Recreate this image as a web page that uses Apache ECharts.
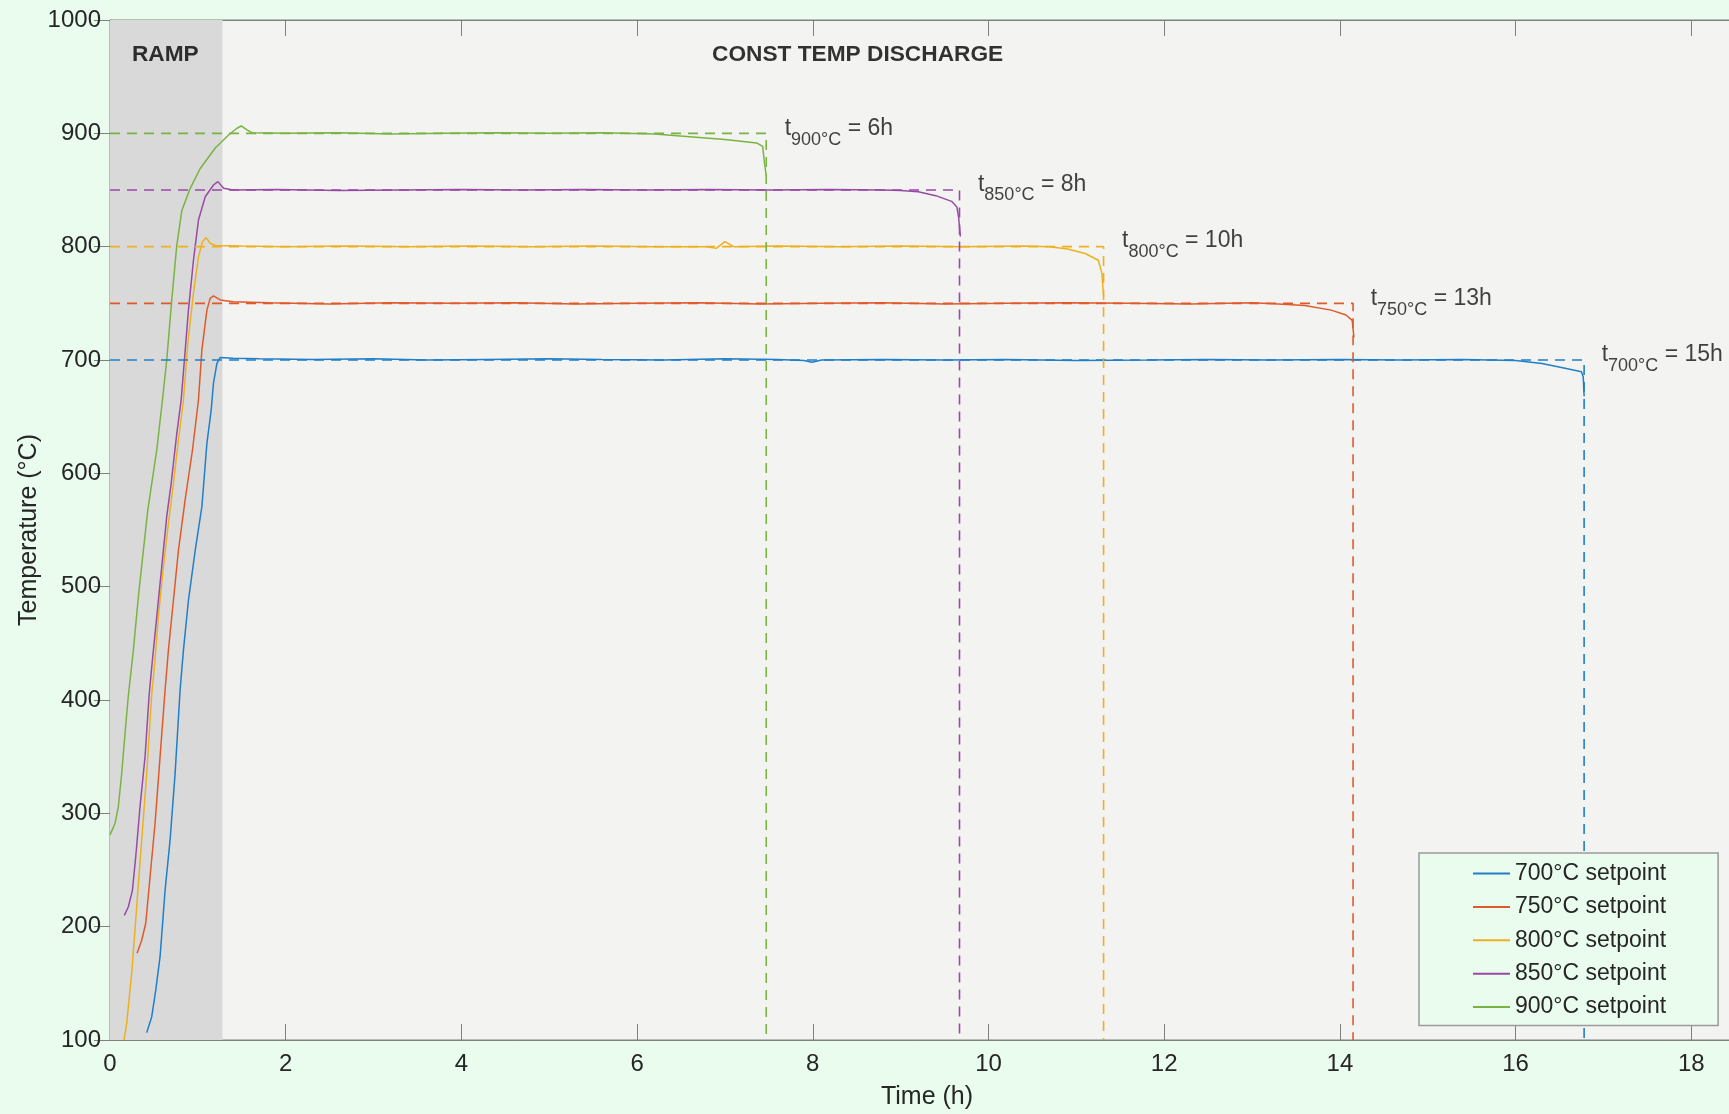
<!DOCTYPE html>
<html>
<head>
<meta charset="utf-8">
<script src="https://cdn.jsdelivr.net/npm/echarts@6/dist/echarts.min.js"></script>
<style>
  html, body { margin: 0; padding: 0; background: #EAFCEE; }
  #chart { width: 1729px; height: 1114px; }
</style>
</head>
<body>
<div id="chart"></div>
<script>
// ---------- DATA ----------
const seriesNames = ['700°C setpoint', '750°C setpoint', '800°C setpoint', '850°C setpoint', '900°C setpoint'];
const seriesColors = ['#1F7FC9', '#E05A29', '#EDB120', '#984AA5', '#79B443'];

const t700 = [0.418, 0.475, 0.521, 0.57, 0.627, 0.684, 0.741, 0.798, 0.836, 0.893, 0.97, 1.046, 1.103, 1.152, 1.178, 1.217, 1.255, 1.4, 1.7, 2.3, 3.0, 3.6, 4.3, 5.0, 5.6, 6.3, 7.0, 7.6, 7.9, 7.99, 8.1, 8.8, 9.5, 10.2, 11.0, 11.8, 12.5, 13.2, 14.0, 14.7, 15.4, 16.0, 16.3, 16.55, 16.75, 16.77, 16.78];
const T700 = [106.5, 120.6, 144, 173.5, 232, 276.5, 335, 408.8, 444, 488, 532, 570.6, 626.5, 656, 679.5, 697, 702.3, 701.5, 701, 700.5, 701, 700, 700.5, 701, 700.5, 700, 701, 700.5, 699.5, 698, 700, 700.5, 700, 700.5, 699.5, 700, 700.5, 700, 700.5, 700, 700.5, 699.5, 697, 693, 689.7, 685, 668];

const t750 = [0.308, 0.361, 0.407, 0.456, 0.513, 0.57, 0.627, 0.665, 0.722, 0.779, 0.855, 0.939, 1.007, 1.046, 1.103, 1.14, 1.178, 1.255, 1.4, 1.8, 2.5, 3.2, 3.9, 4.6, 5.3, 6.0, 6.7, 7.4, 8.1, 8.8, 9.5, 10.2, 10.9, 11.6, 12.3, 13.0, 13.3, 13.6, 13.9, 14.07, 14.14, 14.16];
const T750 = [176.5, 188, 203, 244, 291, 350, 408.8, 444, 488, 532, 576.5, 620.6, 664.7, 709, 744, 754.4, 756.5, 753, 751.5, 750.5, 749.5, 750.5, 750, 750.5, 749.5, 750, 750.5, 749.5, 750, 750.5, 749.5, 750, 750.5, 750, 749.5, 750.5, 749.5, 748, 744, 739.7, 735, 720];

const t800 = [0.16, 0.19, 0.247, 0.304, 0.361, 0.418, 0.475, 0.505, 0.551, 0.608, 0.665, 0.722, 0.779, 0.836, 0.886, 0.95, 1.007, 1.053, 1.095, 1.14, 1.198, 1.5, 2.0, 2.7, 3.4, 4.1, 4.8, 5.5, 6.2, 6.8, 6.9, 7.0, 7.1, 7.6, 8.3, 9.0, 9.7, 10.4, 10.7, 10.9, 11.1, 11.25, 11.29, 11.31];
const T800 = [100, 114.7, 159, 217.6, 276.5, 335, 405, 429, 473.5, 517.6, 556, 591, 629.4, 664.7, 715, 759, 791, 804.4, 808, 803, 801, 800.5, 800, 800.5, 800, 800.5, 800, 800.5, 800, 800, 798.5, 804.4, 800, 800.5, 800, 800.5, 800, 800.5, 800, 798, 794, 788, 777, 756];

const t850 = [0.163, 0.209, 0.255, 0.293, 0.342, 0.399, 0.445, 0.475, 0.532, 0.589, 0.646, 0.696, 0.76, 0.81, 0.893, 0.95, 1.007, 1.084, 1.178, 1.228, 1.293, 1.4, 1.9, 2.6, 3.3, 4.0, 4.7, 5.4, 6.1, 6.8, 7.5, 8.2, 8.8, 9.0, 9.2, 9.4, 9.58, 9.64, 9.66, 9.68];
const T850 = [210, 217.6, 232, 261.7, 306, 350, 404, 429, 473.5, 517.6, 562, 591, 635, 664.7, 744, 788, 823.5, 844, 854.4, 857.4, 851.5, 850, 850.5, 849.5, 850, 850.5, 850, 850.5, 850, 850.5, 850, 850.5, 850, 849.5, 848.5, 845, 840, 835, 826, 809];

const t900 = [0, 0.057, 0.095, 0.133, 0.171, 0.209, 0.266, 0.323, 0.38, 0.43, 0.475, 0.532, 0.597, 0.646, 0.703, 0.76, 0.818, 0.913, 1.027, 1.198, 1.35, 1.445, 1.494, 1.559, 1.616, 2.0, 2.6, 3.2, 3.8, 4.4, 5.0, 5.6, 6.2, 6.6, 7.0, 7.36, 7.43, 7.45, 7.47];
const T900 = [281, 291, 306, 335, 370.6, 404, 444, 491, 532, 567.6, 591, 620.6, 664.7, 700, 753, 801, 832, 851.5, 869, 887, 898.5, 904.5, 906.5, 903, 900.6, 900, 900.5, 899.5, 900, 900.5, 900, 900.5, 899.5, 897, 894.5, 891.5, 888.5, 873.6, 863];

const setpoints = [700, 750, 800, 850, 900];
const endTimes = [16.78, 14.15, 11.31, 9.67, 7.47];

const labelTimes = [16.98, 14.35, 11.52, 9.88, 7.68];
const labelTemps = [704.5, 754, 805, 855, 904];
const labelSubs = ['700°C', '750°C', '800°C', '850°C', '900°C'];
const labelHours = ['15h', '13h', '10h', '8h', '6h'];

const rampRange = [0, 1.28];
const phaseLabels = ['RAMP', 'CONST TEMP DISCHARGE'];
const phaseLabelTimes = [0.63, 8.51];
const phaseLabelTemps = [969, 969];

const xTicks = { min: 0, max: 18.6, interval: 2 };
const yTicks = { min: 100, max: 1000, interval: 100 };

// ---------- BUILD ----------
const FONT = 'Liberation Sans, Arial, Helvetica, sans-serif';
const times = [t700, t750, t800, t850, t900];
const temps = [T700, T750, T800, T850, T900];
const axisGray = '#808080';
const textCol = '#262626';

const series = [];

series.push({
  name: 'rampShade', type: 'line', data: [[rampRange[0], yTicks.min]],
  symbol: 'none', lineStyle: { width: 0 }, silent: true, z: 1,
  markArea: {
    silent: true,
    itemStyle: { color: '#D9D9D9' },
    data: [[{ xAxis: rampRange[0] }, { xAxis: rampRange[1] }]]
  }
});

for (let i = 0; i < 5; i++) {
  series.push({
    name: seriesNames[i], type: 'line',
    data: times[i].map((t, k) => [t, temps[i][k]]),
    symbol: 'none', smooth: false,
    lineStyle: { color: seriesColors[i], width: 1.5 },
    itemStyle: { color: seriesColors[i] },
    z: 3
  });
}
for (let i = 0; i < 5; i++) {
  series.push({
    name: 'dash' + i, type: 'line',
    data: [[0, setpoints[i]], [endTimes[i], setpoints[i]], [endTimes[i], yTicks.min]],
    symbol: 'none',
    lineStyle: { color: seriesColors[i], width: 1.6, type: [10, 7] },
    z: 3
  });
}

series.push({
  name: 'timeLabels', type: 'scatter',
  data: labelTimes.map((t, i) => ({ value: [t, labelTemps[i]], sub: labelSubs[i], hrs: labelHours[i] })),
  symbolSize: 0, silent: true, z: 6,
  label: {
    show: true, position: 'right', distance: 0,
    formatter: p => '{t|t}{s|' + p.data.sub + '}{e| = ' + p.data.hrs + '}',
    rich: {
      t: { fontSize: 23, fontFamily: FONT, color: '#111' },
      s: { fontSize: 18, fontFamily: FONT, color: '#111', padding: [22, 0, 0, 0] },
      e: { fontSize: 23, fontFamily: FONT, color: '#111' }
    }
  }
});

series.push({
  name: 'phaseLabels', type: 'scatter',
  data: phaseLabelTimes.map((t, i) => ({ value: [t, phaseLabelTemps[i]], txt: phaseLabels[i] })),
  symbolSize: 0, silent: true, z: 6,
  label: {
    show: true, position: 'inside',
    formatter: p => p.data.txt,
    fontSize: 22.7, fontWeight: 'bold', fontFamily: FONT, color: '#000'
  }
});

const tickStyle = { show: true, inside: true, length: 16, lineStyle: { color: axisGray, width: 1 } };

const option = {
  backgroundColor: '#EAFCEE',
  animation: false,
  textStyle: { fontFamily: FONT },
  grid: {
    left: 110, top: 20, right: -15, bottom: 74,
    outerBoundsMode: 'none', containLabel: false,
    show: true, backgroundColor: '#F3F3F1', borderColor: axisGray, borderWidth: 1
  },
  legend: {
    data: seriesNames,
    orient: 'vertical',
    left: 1419, top: 853, z: 20,
    icon: 'rect', itemWidth: 37, itemHeight: 2, itemGap: 10.4,
    padding: [9, 52, 7, 54],
    backgroundColor: '#EAFCEE', borderColor: '#9A9A9A', borderWidth: 1.5,
    textStyle: { fontSize: 23, fontFamily: FONT, color: textCol, lineHeight: 23 }
  },
  xAxis: [
    {
      type: 'value', position: 'bottom', min: xTicks.min, max: xTicks.max, interval: xTicks.interval,
      axisLine: { show: true, lineStyle: { color: axisGray, width: 1 } },
      axisTick: tickStyle,
      axisLabel: {
        fontSize: 24, color: textCol, fontFamily: FONT, margin: 12,
        formatter: v => (Math.abs(v % 2) < 1e-9 ? String(v) : '')
      },
      splitLine: { show: false },
      name: 'Time (h)', nameLocation: 'middle', nameGap: 45, nameMoveOverlap: false,
      nameTextStyle: { fontSize: 25, color: textCol, fontFamily: FONT }
    },
    {
      type: 'value', position: 'top', min: xTicks.min, max: xTicks.max, interval: xTicks.interval,
      axisLine: { show: true, lineStyle: { color: axisGray, width: 1 } },
      axisTick: tickStyle, axisLabel: { show: false }, splitLine: { show: false }
    }
  ],
  yAxis: [
    {
      type: 'value', position: 'left', min: yTicks.min, max: yTicks.max, interval: yTicks.interval,
      axisLine: { show: true, lineStyle: { color: axisGray, width: 1 } },
      axisTick: tickStyle,
      axisLabel: { fontSize: 24, color: textCol, fontFamily: FONT, margin: 9, formatter: v => String(v) },
      splitLine: { show: false },
      name: 'Temperature (°C)', nameLocation: 'middle', nameGap: 68, nameRotate: 90, nameMoveOverlap: false,
      nameTextStyle: { fontSize: 25, color: textCol, fontFamily: FONT }
    },
    {
      type: 'value', position: 'right', min: yTicks.min, max: yTicks.max, interval: yTicks.interval,
      axisLine: { show: true, lineStyle: { color: axisGray, width: 1 } },
      axisTick: tickStyle, axisLabel: { show: false }, splitLine: { show: false }
    }
  ],
  series: series
};

const chart = echarts.init(document.getElementById('chart'), null, { renderer: 'canvas' });
chart.setOption(option);
</script>
</body>
</html>
